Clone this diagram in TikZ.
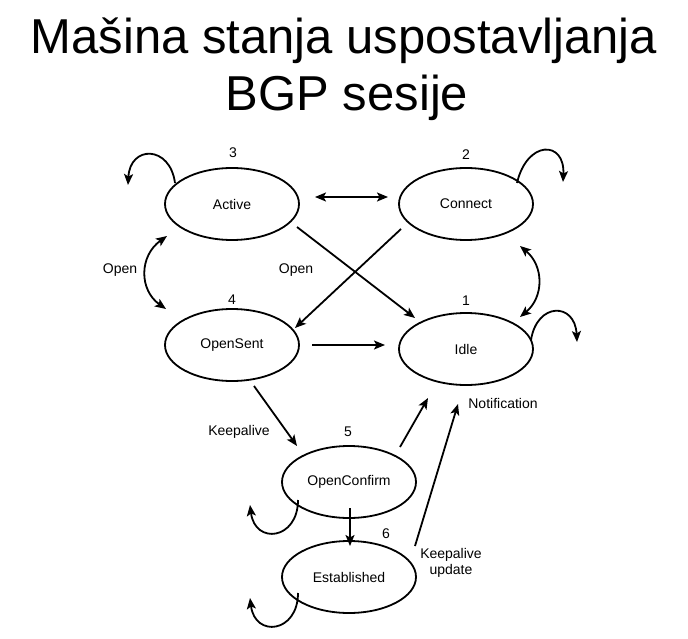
\documentclass[tikz,border=0pt]{standalone}
\usepackage{fontspec}
\setmainfont{Liberation Sans}
\usetikzlibrary{shapes.geometric,arrows.meta,calc}
\begin{document}
\begin{tikzpicture}[x=1pt,y=-1pt,
  state/.style={draw,ellipse,line width=1.8pt,minimum width=134pt,minimum height=72pt,inner sep=0pt,font=\fontsize{14}{16}\selectfont},
  lbl/.style={inner sep=0pt,font=\fontsize{14}{16}\selectfont},
  ttl/.style={inner sep=0pt,anchor=base,font=\fontsize{49}{56}\selectfont},
  arr/.style={line width=1.8pt,-{Stealth[length=11pt,width=9pt,inset=2.5pt]}},
  darr/.style={line width=1.8pt,{Stealth[length=11pt,width=9pt,inset=2.5pt]}-{Stealth[length=11pt,width=9pt,inset=2.5pt]}}]
\useasboundingbox (0,0) rectangle (688,639);
\node[ttl] (t1) at (344,54) {Mašina stanja uspostavljanja};
\node[ttl] (t2) at (347,111) {BGP sesije};

\node[state] (A) at (232,204) {Active};
\node[state] (C) at (466,204) {Connect};
\node[state] (S) at (232,345) {OpenSent};
\node[state] (I) at (466,349) {Idle};
\node[state] (OC) at (349,482) {OpenConfirm};
\node[state] (E) at (349,577) {Established};

\node[lbl] (n3) at (233,153) {3};
\node[lbl] (n2) at (466,155) {2};
\node[lbl] (n4) at (232,300) {4};
\node[lbl] (n1) at (466,301) {1};
\node[lbl] (n5) at (348,432) {5};
\node[lbl] (n6) at (386,534) {6};

\node[lbl] (lo1) at (120,270) {Open};
\node[lbl] (lo2) at (296,270) {Open};
\node[lbl] (lk) at (239,432) {Keepalive};
\node[lbl] (ln) at (503,403) {Notification};
\node[lbl,align=center] (lku) at (451,563) {Keepalive\\update};

% straight connectors
\draw[darr] ($(A.center)+(83,-7)$) -- ($(C.center)+(-78,-7)$);
\draw[arr] ($(A.center)+(65,23)$) -- ($(I.center)+(-51,-31)$);
\draw[arr] ($(C.center)+(-65,25)$) -- ($(S.center)+(63,-17)$);
\draw[arr] ($(S.center)+(80,0)$) -- ($(I.center)+(-81,-4)$);
\draw[arr] ($(S.center)+(22,41)$) -- ($(OC.center)+(-52,-36)$);
\draw[arr] ($(OC.center)+(51,-35)$) -- ($(I.center)+(-38,49)$);
\draw[arr] ($(E.center)+(66,-31)$) -- ($(I.center)+(-8,55)$);
\draw[arr] ($(OC.center)+(1,26)$) -- ($(E.center)+(1,-31)$);

% curved two-way connectors
\draw[darr] ($(A.center)+(-65,32)$) .. controls ($(A.center)+(-93,52)$) and ($(S.center)+(-93,-55)$) .. ($(S.center)+(-66,-36)$);
\draw[darr] ($(C.center)+(54,42)$) .. controls ($(C.center)+(78,62)$) and ($(I.center)+(78,-52)$) .. ($(I.center)+(54,-32)$);

% self loops
\draw[arr] ($(A.center)+(-57,-21)$) .. controls ($(A.center)+(-62,-59)$) and ($(A.center)+(-102,-59)$) .. ($(A.center)+(-104,-19)$);
\draw[arr] ($(C.center)+(51,-21)$) .. controls ($(C.center)+(61,-64)$) and ($(C.center)+(99,-64)$) .. ($(C.center)+(97,-22)$);
\draw[arr] ($(I.center)+(65,-9)$) .. controls ($(I.center)+(71,-47)$) and ($(I.center)+(109,-47)$) .. ($(I.center)+(111,-7)$);
\draw[arr] ($(OC.center)+(-51,18)$) .. controls ($(OC.center)+(-51,58)$) and ($(OC.center)+(-94,63)$) .. ($(OC.center)+(-99,23)$);
\draw[arr] ($(E.center)+(-51,16)$) .. controls ($(E.center)+(-51,56)$) and ($(E.center)+(-94,61)$) .. ($(E.center)+(-99,21)$);
\end{tikzpicture}
\end{document}
